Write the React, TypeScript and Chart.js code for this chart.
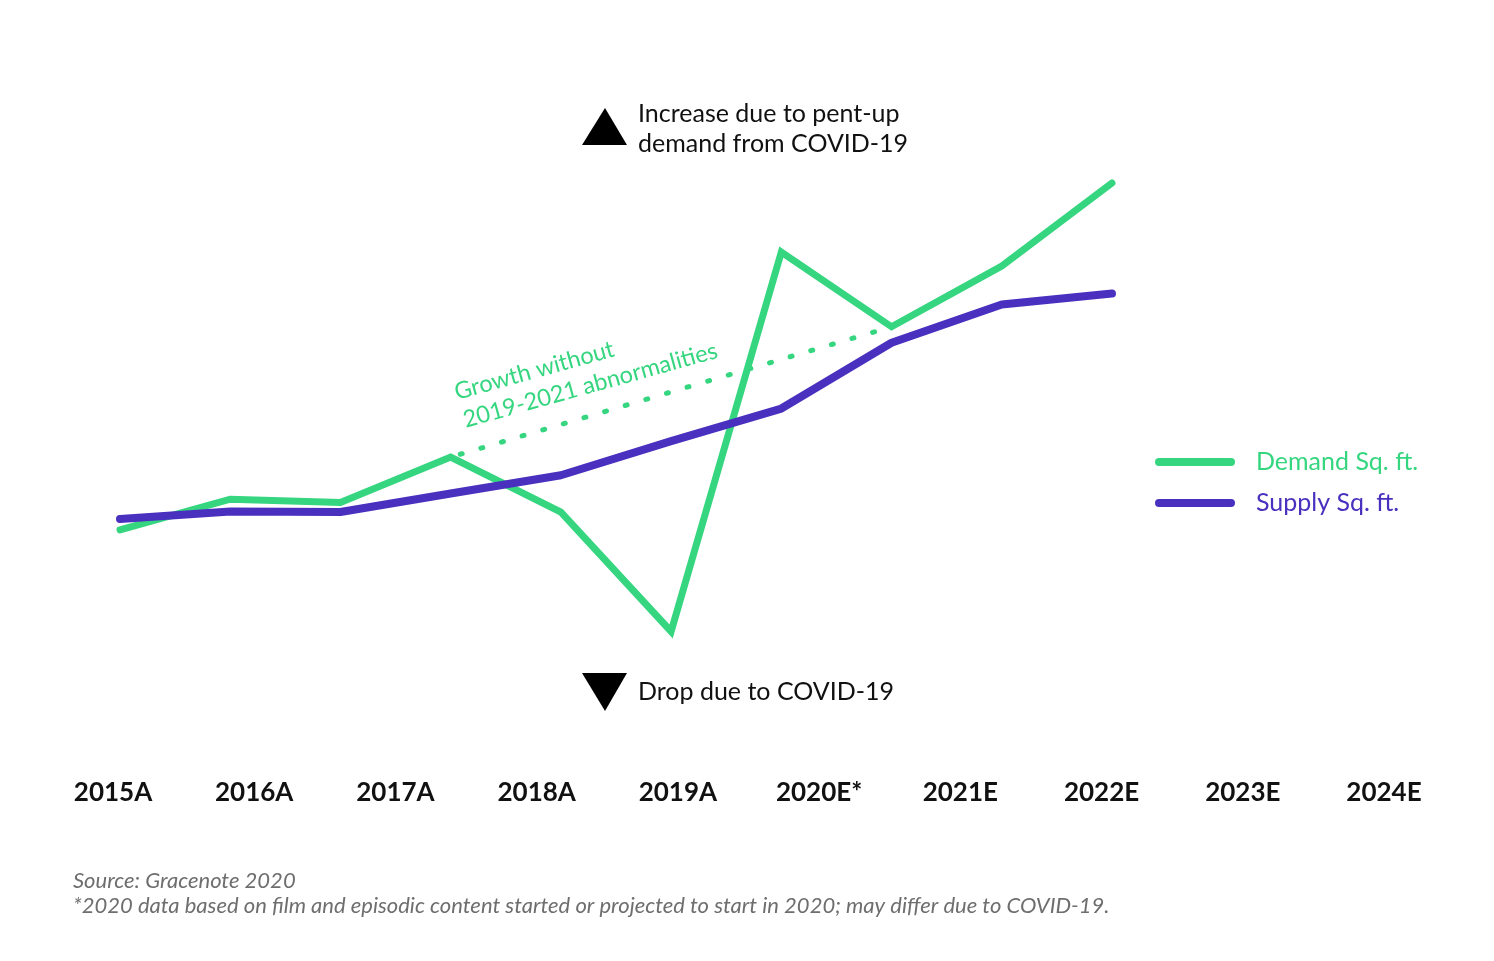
import React, { useEffect, useRef } from 'react';
import { Chart, registerables } from 'chart.js';

Chart.register(...registerables);

// ---------- data ----------
const categories = ['2015A', '2016A', '2017A', '2018A', '2019A', '2020E*', '2021E', '2022E', '2023E', '2024E'];
const pointIndex = [0, 1, 2, 3, 4, 5, 6, 7, 8, 9];
const demand = [32.7, 37.5, 37.0, 44.1, 35.5, 16.8, 76.2, 64.5, 74.0, 87.0];
const supply = [34.4, 35.6, 35.5, 38.4, 41.25, 46.6, 51.7, 62.0, 68.0, 69.7];
const trendIndex = [3, 7];
const trend = [44.1, 64.5];

const seriesNames = ['Demand Sq. ft.', 'Supply Sq. ft.'];
const upNote = ['Increase due to pent-up', 'demand from COVID-19'];
const downNote = ['Drop due to COVID-19'];
const trendNote = ['Growth without', '2019-2021 abnormalities'];
const footnotes = [
  'Source: Gracenote 2020',
  '*2020 data based on film and episodic content started or projected to start in 2020; may differ due to COVID-19.',
];

const GREEN = '#35D67F';
const PURPLE = '#4A30BF';
const FONT = 'Lato, "Open Sans", sans-serif';

const overlayPlugin = {
  id: 'overlay',
  afterDraw(chart: any) {
    const ctx = chart.ctx as CanvasRenderingContext2D;
    ctx.save();

    // up triangle + note
    ctx.fillStyle = '#000';
    ctx.beginPath();
    ctx.moveTo(605, 108);
    ctx.lineTo(627, 145);
    ctx.lineTo(582, 145);
    ctx.closePath();
    ctx.fill();
    ctx.font = `400 25px ${FONT}`;
    ctx.textBaseline = 'alphabetic';
    ctx.textAlign = 'left';
    ctx.fillStyle = '#111';
    ctx.fillText(upNote[0], 638, 122);
    ctx.fillText(upNote[1], 638, 152);

    // down triangle + note
    ctx.fillStyle = '#000';
    ctx.beginPath();
    ctx.moveTo(582, 673);
    ctx.lineTo(627, 673);
    ctx.lineTo(605, 711);
    ctx.closePath();
    ctx.fill();
    ctx.fillStyle = '#111';
    ctx.fillText(downNote[0], 638, 700);

    // rotated trend note
    ctx.save();
    ctx.translate(457, 400);
    ctx.rotate((-15.5 * Math.PI) / 180);
    ctx.font = `400 23.5px ${FONT}`;
    ctx.fillStyle = GREEN;
    ctx.fillText(trendNote[0], 0, 0);
    ctx.fillText(trendNote[1], 1, 29);
    ctx.restore();

    // legend
    const colors = [GREEN, PURPLE];
    const ys = [462, 503];
    ctx.lineCap = 'round';
    ctx.lineWidth = 8;
    seriesNames.forEach((name, i) => {
      ctx.strokeStyle = colors[i];
      ctx.beginPath();
      ctx.moveTo(1159, ys[i]);
      ctx.lineTo(1231, ys[i]);
      ctx.stroke();
      ctx.fillStyle = colors[i];
      ctx.font = `400 25px ${FONT}`;
      ctx.textBaseline = 'middle';
      ctx.fillText(name, 1256, ys[i]);
    });

    // footnotes
    ctx.textBaseline = 'alphabetic';
    ctx.fillStyle = '#6e6e6e';
    ctx.font = `italic 400 22px ${FONT}`;
    ctx.fillText(footnotes[0], 73, 888);
    ctx.fillText(footnotes[1], 73, 913);

    ctx.restore();
  },
};

export default function App() {
  const canvasRef = useRef<HTMLCanvasElement | null>(null);

  useEffect(() => {
    document.body.style.margin = '0';
    const canvas = canvasRef.current;
    if (!canvas) return;
    const chart = new Chart(canvas, {
      type: 'line',
      data: {
        labels: categories,
        datasets: [
          {
            label: seriesNames[1],
            data: pointIndex.map((x, i) => ({ x, y: supply[i] })),
            borderColor: PURPLE,
            backgroundColor: PURPLE,
            borderWidth: 8,
            borderCapStyle: 'round',
            borderJoinStyle: 'round',
            pointRadius: 0,
            tension: 0,
            xAxisID: 'x',
            yAxisID: 'y',
            order: 0,
          },
          {
            label: seriesNames[0],
            data: pointIndex.map((x, i) => ({ x, y: demand[i] })),
            borderColor: GREEN,
            backgroundColor: GREEN,
            borderWidth: 7,
            borderCapStyle: 'round',
            borderJoinStyle: 'miter',
            pointRadius: 0,
            tension: 0,
            xAxisID: 'x',
            yAxisID: 'y',
            order: 1,
          },
          {
            label: 'trend',
            data: trendIndex.map((x, i) => ({ x, y: trend[i] })),
            borderColor: GREEN,
            borderWidth: 5,
            borderDash: [2, 19.5],
            borderDashOffset: -10,
            borderCapStyle: 'round',
            pointRadius: 0,
            tension: 0,
            xAxisID: 'x',
            yAxisID: 'y',
            order: 2,
          },
        ],
      },
      options: {
        animation: false,
        responsive: false,
        devicePixelRatio: 1,
        layout: { padding: { left: 113, right: 110, top: 100, bottom: 115 } },
        plugins: {
          legend: { display: false },
          tooltip: { enabled: false },
          title: { display: false },
        },
        scales: {
          x: { type: 'linear', display: false, min: -0.0635, max: 11.468 },
          x2: {
            type: 'category',
            position: 'bottom',
            labels: categories,
            offset: false,
            grid: { display: false, drawTicks: false },
            border: { display: false },
            ticks: {
              autoSkip: false,
              maxRotation: 0,
              padding: 38,
              color: '#111',
              font: { family: FONT, size: 26, weight: 'bold' },
            },
          },
          y: { type: 'linear', display: false, min: 0, max: 100 },
        },
      },
      plugins: [overlayPlugin],
    } as any);
    return () => chart.destroy();
  }, []);

  return (
    <div style={{ width: 1494, height: 961, background: '#fff' }}>
      <canvas ref={canvasRef} width={1494} height={961} />
    </div>
  );
}
